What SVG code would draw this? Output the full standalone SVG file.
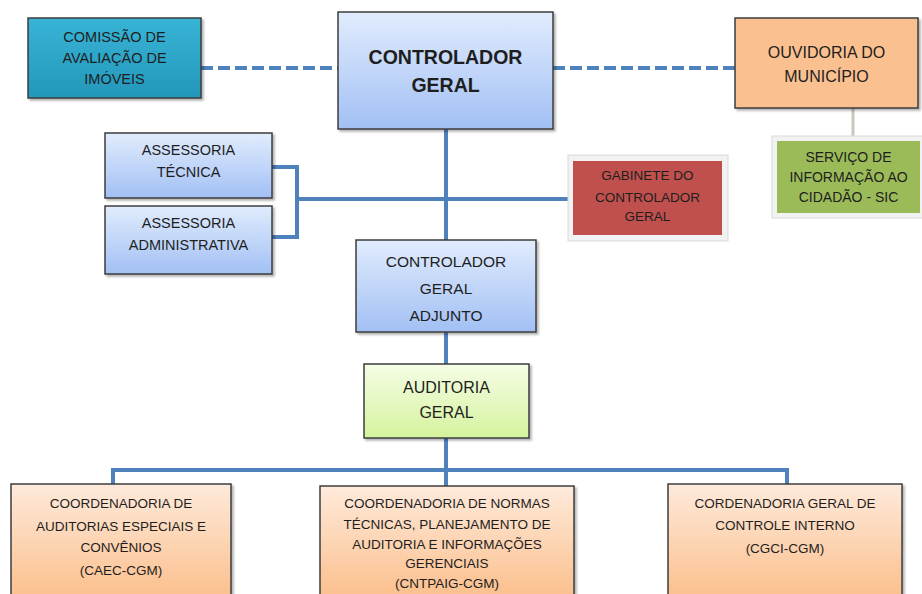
<svg xmlns="http://www.w3.org/2000/svg" width="922" height="594" viewBox="0 0 922 594">
<defs>
<linearGradient id="gBlue" x1="0" y1="0" x2="0" y2="1"><stop offset="0" stop-color="#e1ecfd"/><stop offset="1" stop-color="#a2c0f4"/></linearGradient>
<linearGradient id="gGreen" x1="0" y1="0" x2="0" y2="1"><stop offset="0" stop-color="#f5fde6"/><stop offset="1" stop-color="#d5f39d"/></linearGradient>
<linearGradient id="gOrange" x1="0" y1="0" x2="0" y2="1"><stop offset="0" stop-color="#feeadb"/><stop offset="1" stop-color="#fbbd88"/></linearGradient>
<linearGradient id="gTeal" x1="0" y1="0" x2="0" y2="1"><stop offset="0" stop-color="#38b4d6"/><stop offset="1" stop-color="#2397ba"/></linearGradient>
<filter id="sh" x="-10%" y="-10%" width="130%" height="130%"><feDropShadow dx="2" dy="2" stdDeviation="1.2" flood-color="#000" flood-opacity="0.3"/></filter>
</defs>
<style>
.box{stroke:#3c3c3c;stroke-width:1.5;filter:url(#sh)}
.t{font-family:"Liberation Sans",Arial,sans-serif;fill:#1e1e1e;text-anchor:middle}
.c{fill:none;stroke:#4f81bd;stroke-width:4}
.d{fill:none;stroke:#4f81bd;stroke-width:4;stroke-dasharray:12 5}
.glow{fill:#f2f2f2;stroke:#d9d9d9;stroke-width:1}
</style>
<g id="connectors">
<line class="d" x1="201" y1="68" x2="338" y2="68"/>
<line class="d" x1="553" y1="68" x2="735" y2="68"/>
<line x1="853" y1="108" x2="853" y2="138" stroke="#c8c8bc" stroke-width="3"/>
<line class="c" x1="446" y1="129" x2="446" y2="240"/>
<line class="c" x1="446" y1="332" x2="446" y2="364"/>
<line class="c" x1="446" y1="438" x2="446" y2="486"/>
<polyline class="c" points="272,167 297,167 297,237 272,237"/>
<line class="c" x1="297" y1="199" x2="570" y2="199"/>
<polyline class="c" points="113,484 113,470 787,470 787,484"/>
</g>
<g id="comissao">
<rect class="box" x="28" y="18" width="173" height="80" fill="url(#gTeal)"/>
<text class="t" font-size="14.5" x="114.5"><tspan x="114.5" y="42">COMISSÃO DE</tspan><tspan x="114.5" y="63">AVALIAÇÃO DE</tspan><tspan x="114.5" y="84">IMÓVEIS</tspan></text>
</g>
<g id="controlador-geral">
<rect class="box" x="338" y="12" width="215" height="117" fill="url(#gBlue)"/>
<text class="t" font-size="19.5" font-weight="bold" fill="#111"><tspan x="445.5" y="64">CONTROLADOR</tspan><tspan x="445.5" y="92">GERAL</tspan></text>
</g>
<g id="ouvidoria">
<rect class="box" x="735" y="18" width="183" height="90" fill="#fac08f"/>
<text class="t" font-size="16"><tspan x="826.5" y="57.5">OUVIDORIA DO</tspan><tspan x="826.5" y="81.5">MUNICÍPIO</tspan></text>
</g>
<g id="sic">
<rect class="glow" x="772" y="136" width="152" height="82"/>
<rect x="777" y="141" width="143" height="72" fill="#9bbb59"/>
<text class="t" font-size="14"><tspan x="848.5" y="162">SERVIÇO DE</tspan><tspan x="848.5" y="182">INFORMAÇÃO AO</tspan><tspan x="848.5" y="202">CIDADÃO - SIC</tspan></text>
</g>
<g id="gabinete">
<rect class="glow" x="568" y="155" width="160" height="86"/>
<rect x="573" y="161" width="149" height="74" fill="#c0504d"/>
<text class="t" font-size="13.5"><tspan x="647.5" y="180">GABINETE DO</tspan><tspan x="647.5" y="202">CONTROLADOR</tspan><tspan x="647.5" y="221">GERAL</tspan></text>
</g>
<g id="assessoria-tecnica">
<rect class="box" x="105" y="133" width="167" height="65" fill="url(#gBlue)"/>
<text class="t" font-size="14.5"><tspan x="188.5" y="155">ASSESSORIA</tspan><tspan x="188.5" y="177">TÉCNICA</tspan></text>
</g>
<g id="assessoria-administrativa">
<rect class="box" x="105" y="206" width="167" height="68" fill="url(#gBlue)"/>
<text class="t" font-size="14.5"><tspan x="188.5" y="228">ASSESSORIA</tspan><tspan x="188.5" y="250">ADMINISTRATIVA</tspan></text>
</g>
<g id="controlador-adjunto">
<rect class="box" x="356" y="240" width="180" height="92" fill="url(#gBlue)"/>
<text class="t" font-size="15.5"><tspan x="446" y="266.5">CONTROLADOR</tspan><tspan x="446" y="293.5">GERAL</tspan><tspan x="446" y="320.5">ADJUNTO</tspan></text>
</g>
<g id="auditoria-geral">
<rect class="box" x="364" y="364" width="165" height="74" fill="url(#gGreen)"/>
<text class="t" font-size="16"><tspan x="446.5" y="393">AUDITORIA</tspan><tspan x="446.5" y="418">GERAL</tspan></text>
</g>
<g id="caec">
<rect class="box" x="11" y="484" width="220" height="120" fill="url(#gOrange)"/>
<text class="t" font-size="13.5"><tspan x="121" y="508">COORDENADORIA DE</tspan><tspan x="121" y="531">AUDITORIAS ESPECIAIS E</tspan><tspan x="121" y="552">CONVÊNIOS</tspan><tspan x="121" y="575">(CAEC-CGM)</tspan></text>
</g>
<g id="cntpaig">
<rect class="box" x="320" y="486" width="254" height="118" fill="url(#gOrange)"/>
<text class="t" font-size="13.5"><tspan x="447" y="508">COORDENADORIA DE NORMAS</tspan><tspan x="447" y="529">TÉCNICAS, PLANEJAMENTO DE</tspan><tspan x="447" y="549">AUDITORIA E INFORMAÇÕES</tspan><tspan x="447" y="568">GERENCIAIS</tspan><tspan x="447" y="588">(CNTPAIG-CGM)</tspan></text>
</g>
<g id="cgci">
<rect class="box" x="668" y="484" width="234" height="120" fill="url(#gOrange)"/>
<text class="t" font-size="13.5"><tspan x="785" y="508">CORDENADORIA GERAL DE</tspan><tspan x="785" y="530">CONTROLE INTERNO</tspan><tspan x="785" y="553">(CGCI-CGM)</tspan></text>
</g>
</svg>
